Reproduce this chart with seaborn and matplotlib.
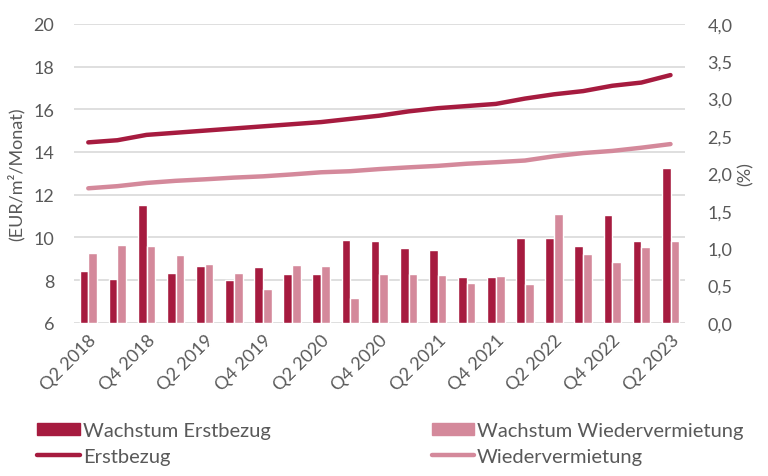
import numpy as np
import pandas as pd
import matplotlib
matplotlib.use("Agg")
import matplotlib.pyplot as plt
import seaborn as sns
from matplotlib.patches import Patch
from matplotlib.lines import Line2D

quarters = ["Q2 2018", "Q3 2018", "Q4 2018", "Q1 2019", "Q2 2019", "Q3 2019", "Q4 2019",
            "Q1 2020", "Q2 2020", "Q3 2020", "Q4 2020", "Q1 2021", "Q2 2021", "Q3 2021",
            "Q4 2021", "Q1 2022", "Q2 2022", "Q3 2022", "Q4 2022", "Q1 2023", "Q2 2023"]
erstbezug = [14.45, 14.55, 14.8, 14.9, 15.0, 15.1, 15.2, 15.3, 15.4, 15.55, 15.7,
             15.9, 16.05, 16.15, 16.25, 16.5, 16.7, 16.85, 17.1, 17.25, 17.6]
wiedervermietung = [12.3, 12.4, 12.55, 12.65, 12.72, 12.8, 12.86, 12.95, 13.05, 13.1, 13.2,
                    13.28, 13.35, 13.45, 13.52, 13.6, 13.8, 13.95, 14.05, 14.2, 14.37]
wachstum_erstbezug = [0.69, 0.59, 1.57, 0.67, 0.76, 0.57, 0.75, 0.66, 0.65, 1.11, 1.09,
                      1.00, 0.98, 0.62, 0.61, 1.14, 1.13, 1.03, 1.44, 1.09, 2.07]
wachstum_wiedervermietung = [0.93, 1.04, 1.03, 0.91, 0.79, 0.67, 0.45, 0.77, 0.76, 0.33, 0.65,
                             0.65, 0.64, 0.53, 0.63, 0.52, 1.46, 0.92, 0.81, 1.01, 1.10]
left_ticks = [6, 8, 10, 12, 14, 16, 18, 20]
right_ticks = [0.0, 0.5, 1.0, 1.5, 2.0, 2.5, 3.0, 3.5, 4.0]

DARK = "#A61B3F"
LIGHT = "#D4899B"
TXT = "#595959"

sns.set_theme(style="white")
plt.rcParams["font.family"] = ["Lato", "DejaVu Sans"]

fig = plt.figure(figsize=(7.68, 4.77), dpi=100)
ax1 = fig.add_axes([0.096, 0.321, 0.796, 0.627])
ax2 = ax1.twinx()

idx = np.arange(len(quarters))
lines_df = pd.DataFrame({
    "pos": np.concatenate([idx, idx]),
    "value": erstbezug + wiedervermietung,
    "series": ["Erstbezug"] * len(idx) + ["Wiedervermietung"] * len(idx),
})
bars_df = pd.DataFrame({
    "quarter": quarters * 2,
    "value": wachstum_erstbezug + wachstum_wiedervermietung,
    "series": ["Wachstum Erstbezug"] * len(quarters) + ["Wachstum Wiedervermietung"] * len(quarters),
})

sns.barplot(data=bars_df, x="quarter", y="value", hue="series",
            palette=[DARK, LIGHT], width=0.6, gap=0, saturation=1,
            legend=False, ax=ax2)
sns.lineplot(data=lines_df, x="pos", y="value", hue="series",
             palette=[DARK, LIGHT], linewidth=3.2, legend=False, ax=ax1,
             solid_capstyle="round")

ax1.set_ylim(6, 20)
ax1.set_yticks(left_ticks)
ax1.set_yticklabels([str(t) for t in left_ticks])
ax2.set_ylim(0, 4)
ax2.set_yticks(right_ticks)
ax2.set_yticklabels([f"{t:.1f}".replace(".", ",") for t in right_ticks])
ax1.set_xlim(-0.5, len(quarters) - 0.5)
ax1.set_xticks(idx[::2])
ax1.set_xticklabels(quarters[::2], rotation=45, ha="right", rotation_mode="anchor")

ax1.grid(axis="y", color="#D9D9D9", linewidth=1.2)
ax1.grid(axis="x", visible=False)
ax2.grid(False)
ax1.set_axisbelow(True)
for a in (ax1, ax2):
    for s in a.spines.values():
        s.set_visible(False)
    a.tick_params(length=0, colors=TXT, labelsize=13)
    a.set_xlabel("")
ax1.tick_params(axis="x", pad=6)
ax1.tick_params(axis="y", pad=14)
ax2.tick_params(axis="y", pad=16)

ax1.set_ylabel("(EUR/m²/Monat)", color=TXT, fontsize=13, labelpad=6)
ax2.set_ylabel("(%)", color=TXT, fontsize=13, labelpad=4)

handles = [Patch(color=DARK), Line2D([], [], color=DARK, linewidth=3.2),
           Patch(color=LIGHT), Line2D([], [], color=LIGHT, linewidth=3.2)]
labels = ["Wachstum Erstbezug", "Erstbezug", "Wachstum Wiedervermietung", "Wiedervermietung"]
leg = fig.legend(handles, labels, ncol=2, loc="lower left", bbox_to_anchor=(0.025, -0.015),
                 frameon=False, fontsize=14.5, handlelength=2.1, handleheight=0.55,
                 handletextpad=0.15, columnspacing=8.0, labelspacing=0.45)
for t in leg.get_texts():
    t.set_color(TXT)

fig.savefig("out.png", dpi=100)
